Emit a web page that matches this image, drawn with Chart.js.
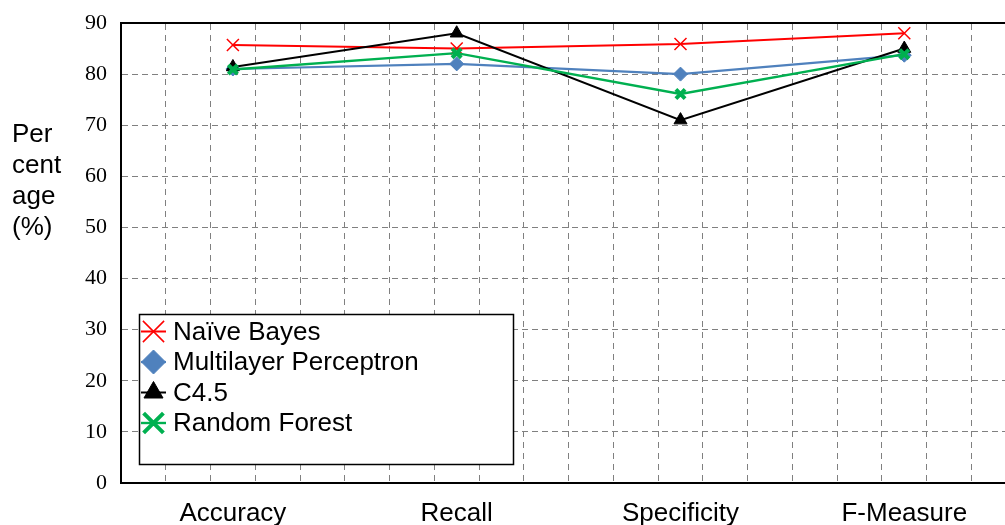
<!DOCTYPE html>
<html>
<head>
<meta charset="utf-8">
<script src="https://cdn.jsdelivr.net/npm/chart.js@4.4.1/dist/chart.umd.min.js"></script>
<style>
  html, body { margin: 0; padding: 0; background: #fff; overflow: hidden; }
  canvas { display: block; }
</style>
</head>
<body>
<canvas id="chart" width="1005" height="525"></canvas>
<script>
// Evaluation measures (one band per measure on the x axis)
const categories = ['Accuracy', 'Recall', 'Specificity', 'F-Measure'];

// Scores in percent, per classifier
const naiveBayes           = [85.7, 85.0, 85.9, 88.0];
const multilayerPerceptron = [81.0, 82.0, 80.0, 83.7];
const c45                  = [81.4, 88.0, 71.0, 85.0];
const randomForest         = [80.9, 84.1, 76.1, 83.9];

const seriesNames = ['Naïve Bayes', 'Multilayer Perceptron', 'C4.5', 'Random Forest'];

// Y axis range and steps
const yMin = 0, yMax = 90, yStep = 10;
const yAxisTitle = ['Per', 'cent', 'age', '(%)'];

// Each measure occupies one unit band; the plot shows a little less than four bands
const xVisibleMax = 3.95;
const gridDivisions = 5;

const toPoints = values => values.map((v, i) => ({ x: i + 0.5, y: v }));

const bandCenters = categories.map((_, i) => i + 0.5);
const gridSteps = [];
for (let k = 0; k / gridDivisions <= xVisibleMax; k++) gridSteps.push(k / gridDivisions);

const SANS = '"Liberation Sans", Arial, sans-serif';
const SERIF = '"Liberation Serif", "Times New Roman", serif';

const seriesStyle = [
  { color: '#FF0000', pointStyle: 'crossRot', radius: 8.5, pointWidth: 1.5, lineWidth: 2,   legendRadius: 15, order: 4 },
  { color: '#4F81BD', pointStyle: 'rectRot',  radius: 7,   pointWidth: 1,   lineWidth: 2.2, legendRadius: 12, order: 3 },
  { color: '#000000', pointStyle: 'triangle', radius: 7.5, pointWidth: 1,   lineWidth: 2,   legendRadius: 11, order: 2 },
  { color: '#00B050', pointStyle: 'crossRot', radius: 6.5, pointWidth: 4,   lineWidth: 2.4, legendRadius: 14, order: 1 }
];
const seriesValues = [naiveBayes, multilayerPerceptron, c45, randomForest];

// Axis title and boxed legend drawn on top of the plot
const annotations = {
  id: 'annotations',
  afterDraw(chart) {
    const ctx = chart.ctx;
    ctx.save();
    ctx.fillStyle = '#000';
    ctx.font = '26px ' + SANS;
    ctx.textAlign = 'left';
    ctx.textBaseline = 'alphabetic';
    yAxisTitle.forEach((line, i) => ctx.fillText(line, 12, 142 + i * 31));

    // legend box
    const bx = 139.5, by = 314.5, bw = 374, bh = 150;
    ctx.fillStyle = '#fff';
    ctx.fillRect(bx, by, bw, bh);
    ctx.lineWidth = 1.5;
    ctx.strokeStyle = '#000';
    ctx.strokeRect(bx, by, bw, bh);

    chart.data.datasets.forEach((ds, i) => {
      const y = 331.5 + i * 30.5;
      const style = seriesStyle[i];
      ctx.save();
      ctx.strokeStyle = ds.borderColor;
      ctx.lineWidth = ds.borderWidth;
      ctx.beginPath();
      ctx.moveTo(141, y);
      ctx.lineTo(166, y);
      ctx.stroke();
      ctx.fillStyle = ds.pointBackgroundColor;
      ctx.strokeStyle = ds.pointBorderColor;
      ctx.lineWidth = ds.pointBorderWidth;
      Chart.helpers.drawPoint(ctx, {
        pointStyle: ds.pointStyle,
        radius: style.legendRadius,
        rotation: 0,
        borderWidth: ds.pointBorderWidth
      }, 153.5, y);
      ctx.restore();
      ctx.fillStyle = '#000';
      ctx.font = '26px ' + SANS;
      ctx.textBaseline = 'middle';
      ctx.fillText(ds.label, 173, y + 1);
    });
    ctx.restore();
  }
};

const datasets = seriesValues.map((vals, i) => {
  const s = seriesStyle[i];
  return {
    label: seriesNames[i],
    data: toPoints(vals),
    borderColor: s.color,
    backgroundColor: s.color,
    borderWidth: s.lineWidth,
    pointStyle: s.pointStyle,
    pointRadius: s.radius,
    pointHoverRadius: s.radius,
    pointBackgroundColor: s.color,
    pointBorderColor: s.color,
    pointBorderWidth: s.pointWidth,
    tension: 0,
    fill: false,
    clip: false,
    order: s.order,
    xAxisID: 'x',
    yAxisID: 'y'
  };
});

new Chart(document.getElementById('chart'), {
  type: 'line',
  data: { datasets },
  options: {
    responsive: false,
    animation: false,
    events: [],
    layout: { autoPadding: false, padding: { top: 23, right: 0, bottom: 0, left: 0 } },
    plugins: { legend: { display: false }, tooltip: { enabled: false } },
    scales: {
      x: {
        type: 'linear',
        position: 'bottom',
        min: 0,
        max: xVisibleMax,
        afterBuildTicks: axis => { axis.ticks = bandCenters.map(v => ({ value: v })); },
        afterFit: axis => { axis.height = 42; axis.paddingLeft = 0; axis.paddingRight = 0; },
        grid: { display: false, drawTicks: false },
        border: { display: true, color: '#000', width: 2 },
        ticks: {
          autoSkip: false,
          maxRotation: 0,
          padding: 15,
          color: '#000',
          font: { family: SANS, size: 26 },
          callback: value => categories[Math.floor(value)]
        }
      },
      xg: {
        type: 'linear',
        position: 'top',
        min: 0,
        max: xVisibleMax,
        afterBuildTicks: axis => { axis.ticks = gridSteps.map(v => ({ value: v })); },
        afterFit: axis => { axis.height = 0; axis.paddingLeft = 0; axis.paddingRight = 0; },
        grid: { display: true, drawTicks: false, color: '#808080', lineWidth: 1 },
        border: { display: true, color: '#000', width: 2, dash: [6, 5] },
        ticks: { display: false }
      },
      y: {
        type: 'linear',
        position: 'left',
        min: yMin,
        max: yMax,
        afterFit: axis => { axis.width = 121; axis.paddingTop = 0; axis.paddingBottom = 0; },
        grid: { display: true, drawTicks: false, color: '#808080', lineWidth: 1 },
        border: { display: true, color: '#000', width: 2, dash: [6, 4] },
        ticks: {
          stepSize: yStep,
          padding: 14,
          color: '#000',
          font: { family: SERIF, size: 22 }
        }
      }
    }
  },
  plugins: [annotations]
});
</script>
</body>
</html>
